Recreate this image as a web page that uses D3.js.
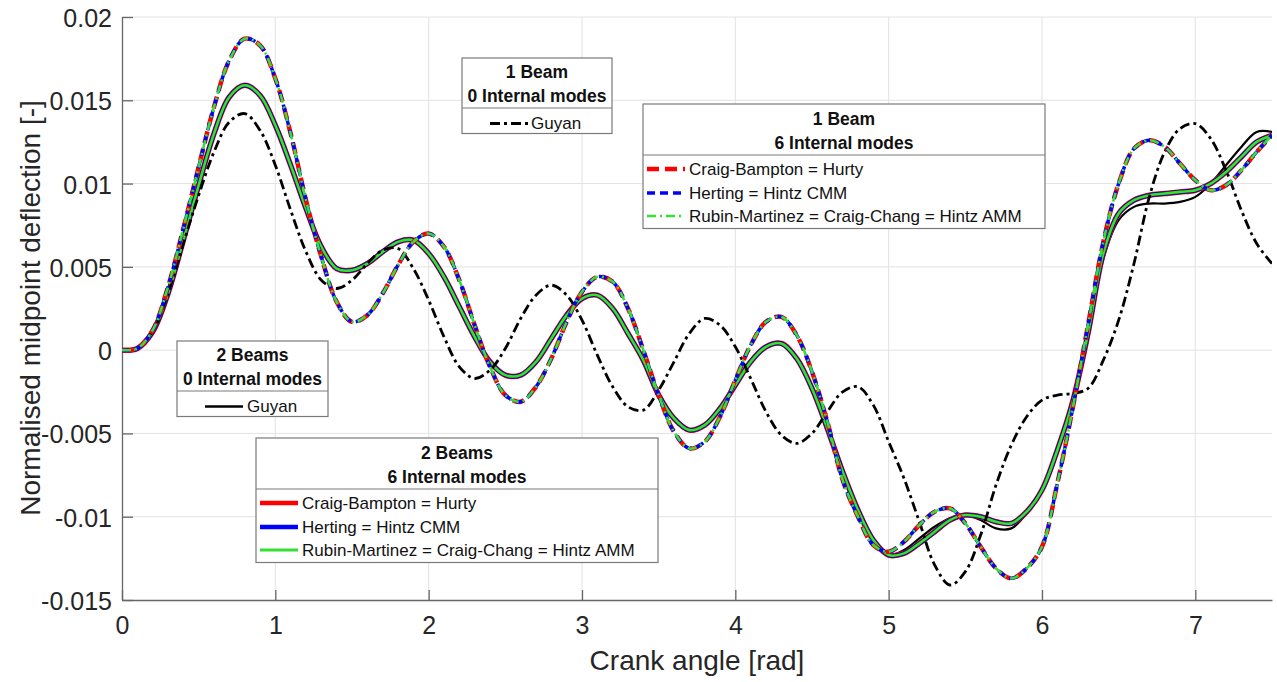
<!DOCTYPE html>
<html><head><meta charset="utf-8">
<script src="https://cdn.jsdelivr.net/npm/d3@7"></script>
<style>body{margin:0;background:#fff}svg{display:block}</style>
</head><body>
<svg id="c" width="1277" height="682"></svg>
<script>
// ---------- data ----------
const angle = [0.0,0.1,0.2,0.3,0.4,0.5,0.6,0.7,0.8,0.9,1.0,1.1,1.2,1.3,1.4,1.5,1.6,1.7,1.8,1.9,
  2.0,2.1,2.2,2.3,2.4,2.5,2.6,2.7,2.8,2.9,3.0,3.1,3.2,3.3,3.4,3.5,3.6,3.7,3.8,3.9,
  4.0,4.1,4.2,4.3,4.4,4.5,4.6,4.7,4.8,4.9,5.0,5.1,5.2,5.3,5.4,5.5,5.6,5.7,5.8,5.9,
  6.0,6.1,6.2,6.3,6.4,6.5,6.6,6.7,6.8,6.9,7.0,7.1,7.2,7.3,7.4,7.5];

// 1 Beam, 0 internal modes: Guyan
const guyan1 = [0,0.0001,0.0011,0.0034,0.0064,0.0093,0.0119,0.0137,0.0142,0.0132,
  0.0111,0.0084,0.0059,0.0042,0.0037,0.0042,0.0052,0.0060,0.0061,0.0049,
  0.0030,0.0008,-0.0010,-0.0017,-0.0012,0.0001,0.0019,0.0033,0.0039,0.0033,
  0.0018,-0.0003,-0.0022,-0.0034,-0.0036,-0.0024,-0.0007,0.0010,0.0019,0.0015,
  0.0002,-0.0017,-0.0037,-0.0051,-0.0056,-0.0050,-0.0037,-0.0025,-0.0022,-0.0033,
  -0.0055,-0.0077,-0.0103,-0.0129,-0.0141,-0.0133,-0.0111,-0.0081,-0.0057,-0.0040,
  -0.0030,-0.0027,-0.0026,-0.0023,-0.0006,0.0018,0.0052,0.0092,0.0119,0.0133,
  0.0136,0.0127,0.0108,0.0084,0.0064,0.0052];

// 1 Beam, 6 internal modes (Craig-Bampton = Herting = Rubin-Martinez ...)
const modes1 = [0,0.0001,0.0012,0.0038,0.0073,0.0110,0.0146,0.0174,0.0187,0.0183,
  0.0163,0.0130,0.0090,0.0056,0.0029,0.0017,0.0021,0.0034,0.0051,0.0065,
  0.0070,0.0062,0.0042,0.0015,-0.0010,-0.0027,-0.0031,-0.0022,-0.0005,0.0017,
  0.0035,0.0044,0.0041,0.0025,0.0000,-0.0027,-0.0049,-0.0059,-0.0055,-0.0040,
  -0.0018,0.0003,0.0017,0.0020,0.0009,-0.0013,-0.0043,-0.0078,-0.0100,-0.0117,
  -0.0121,-0.0115,-0.0105,-0.0097,-0.0095,-0.0104,-0.0118,-0.0131,-0.0137,-0.0131,
  -0.0118,-0.0080,-0.0035,0.0015,0.0065,0.0100,0.0121,0.0126,0.0122,0.0112,
  0.0102,0.0096,0.0099,0.0108,0.0119,0.0129];

// 2 Beams, 0 internal modes: Guyan
const guyan2 = [0,0.0001,0.0011,0.0034,0.0066,0.0099,0.0130,0.0152,0.0159,0.0153,
  0.0135,0.0111,0.0085,0.0062,0.0049,0.0048,0.0052,0.0059,0.0065,0.0066,
  0.0058,0.0044,0.0026,0.0008,-0.0007,-0.0015,-0.0015,-0.0007,0.0007,0.0021,
  0.0031,0.0033,0.0025,0.0010,-0.0006,-0.0027,-0.0041,-0.0048,-0.0045,-0.0035,
  -0.0021,-0.0007,0.0002,0.0004,-0.0005,-0.0023,-0.0047,-0.0073,-0.0096,-0.0114,
  -0.0123,-0.0120,-0.0113,-0.0106,-0.0101,-0.0099,-0.0102,-0.0107,-0.0107,-0.0098,
  -0.0084,-0.0059,-0.0030,0.0010,0.0055,0.0078,0.0086,0.0088,0.0088,0.0089,
  0.0092,0.0100,0.0111,0.0122,0.0131,0.0131];

// 2 Beams, 6 internal modes
const modes2 = [0,0.0001,0.0011,0.0034,0.0066,0.0099,0.0130,0.0152,0.0159,0.0153,
  0.0135,0.0111,0.0085,0.0062,0.0049,0.0048,0.0052,0.0059,0.0065,0.0066,
  0.0058,0.0044,0.0026,0.0008,-0.0007,-0.0015,-0.0015,-0.0007,0.0007,0.0021,
  0.0031,0.0033,0.0025,0.0010,-0.0006,-0.0027,-0.0041,-0.0048,-0.0045,-0.0035,
  -0.0021,-0.0007,0.0002,0.0004,-0.0005,-0.0023,-0.0047,-0.0073,-0.0096,-0.0114,
  -0.0123,-0.0122,-0.0116,-0.0109,-0.0102,-0.0099,-0.0100,-0.0103,-0.0104,-0.0097,
  -0.0084,-0.0060,-0.0031,0.0010,0.0058,0.0082,0.0090,0.0093,0.0094,0.0095,
  0.0096,0.0100,0.0107,0.0116,0.0125,0.0129];

const xTicks = [0,1,2,3,4,5,6,7];
const yTicks = [-0.015,-0.01,-0.005,0,0.005,0.01,0.015,0.02];
const yTickLabels = ["-0.015","-0.01","-0.005","0","0.005","0.01","0.015","0.02"];
const xTitle = "Crank angle [rad]";
const yTitle = "Normalised midpoint deflection [-]";
const methodNames = ["Craig-Bampton = Hurty","Herting = Hintz CMM","Rubin-Martinez = Craig-Chang = Hintz AMM"];

// ---------- layout ----------
const L = 122, R = 1272, T = 17, B = 600;
const FONT = "'Liberation Sans', Arial, Helvetica, sans-serif";
const svg = d3.select("#c");
const x = d3.scaleLinear().domain([0, 7.5]).range([L, R]);
const y = d3.scaleLinear().domain([-0.015, 0.02]).range([B, T]);

// grid
const grid = svg.append("g");
grid.selectAll("line.gx").data(xTicks.slice(1)).join("line")
  .attr("x1", d => x(d)).attr("x2", d => x(d)).attr("y1", T).attr("y2", B)
  .attr("stroke", "#e2e2e2").attr("stroke-width", 1);
grid.selectAll("line.gy").data(yTicks.slice(1)).join("line")
  .attr("x1", L).attr("x2", R).attr("y1", d => y(d)).attr("y2", d => y(d))
  .attr("stroke", "#e2e2e2").attr("stroke-width", 1);

// axes
const xAxis = d3.axisBottom(x).tickValues(xTicks).tickFormat(d3.format("d")).tickSizeInner(-10).tickSizeOuter(0).tickPadding(16);
const yAxis = d3.axisLeft(y).tickValues(yTicks).tickFormat((d, i) => yTickLabels[i]).tickSizeInner(-11).tickSizeOuter(0).tickPadding(10);
const gx = svg.append("g").attr("transform", `translate(0,${B})`).call(xAxis);
const gy = svg.append("g").attr("transform", `translate(${L},0)`).call(yAxis);
[gx, gy].forEach(g => {
  g.select(".domain").attr("stroke", "#666").attr("stroke-width", 1.3);
  g.selectAll(".tick line").attr("stroke", "#666").attr("stroke-width", 1.3);
  g.selectAll(".tick text").attr("fill", "#262626").style("font-family", FONT).style("font-size", "25px");
});
gy.selectAll(".tick text").attr("dy", "0.38em");

// titles
svg.append("text").attr("x", (L + R) / 2).attr("y", 670).attr("text-anchor", "middle")
  .style("font-family", FONT).style("font-size", "28px").attr("fill", "#262626").text(xTitle);
svg.append("text").attr("transform", `translate(40,${308}) rotate(-90)`).attr("text-anchor", "middle")
  .style("font-family", FONT).style("font-size", "28px").attr("fill", "#262626").text(yTitle);

// clip
svg.append("clipPath").attr("id", "clip").append("rect").attr("x", L).attr("y", T - 5).attr("width", R - L).attr("height", B - T + 5);
const plot = svg.append("g").attr("clip-path", "url(#clip)");

const line = d3.line().x((d, i) => x(angle[i])).y(d => y(d)).curve(d3.curveCatmullRom.alpha(0.5));

function draw(data, color, width, dash) {
  const p = plot.append("path").attr("d", line(data)).attr("fill", "none")
    .attr("stroke", color).attr("stroke-width", width)
    .attr("stroke-linejoin", "round");
  if (dash) p.attr("stroke-dasharray", dash);
}

// 2 beams
draw(guyan2, "#000000", 2.2, null);
draw(modes2, "#ff0000", 5.5, null);
draw(modes2, "#0000ff", 4.5, null);
draw(modes2, "#1f1f1f", 3.6, null);
draw(modes2, "#33e033", 2.6, null);
// 1 beam
draw(guyan1, "#000000", 2.8, "10,4,3,4");
draw(modes1, "#ff0000", 4.5, "12,6");
draw(modes1, "#0000ff", 3.5, "8,5");
draw(modes1, "#33e033", 2.6, "9,4,2,4");

// ---------- legends ----------
function legend(bx, by, bw, titles, items, sampleX0, sampleX1, textX, rows) {
  const g = svg.append("g");
  const h = rows.bottom;
  g.append("rect").attr("x", bx).attr("y", by).attr("width", bw).attr("height", h)
    .attr("fill", "#fff").attr("stroke", "#7a7a7a").attr("stroke-width", 1.2);
  g.append("line").attr("x1", bx).attr("x2", bx + bw).attr("y1", by + rows.sep).attr("y2", by + rows.sep)
    .attr("stroke", "#7a7a7a").attr("stroke-width", 1.2);
  titles.forEach((t, i) => {
    g.append("text").attr("x", bx + bw / 2).attr("y", by + rows.titles[i]).attr("dy", "0.35em")
      .attr("text-anchor", "middle").style("font-family", FONT).style("font-size", "17.5px")
      .style("font-weight", "bold").attr("fill", "#111").text(t);
  });
  items.forEach((it, i) => {
    const cy = by + rows.items[i];
    const l = g.append("line").attr("x1", bx + sampleX0).attr("x2", bx + sampleX1).attr("y1", cy).attr("y2", cy)
      .attr("stroke", it.color).attr("stroke-width", it.width);
    if (it.dash) l.attr("stroke-dasharray", it.dash);
    g.append("text").attr("x", bx + textX).attr("y", cy).attr("dy", "0.35em")
      .style("font-family", FONT).style("font-size", "17px").attr("fill", "#111").text(it.label);
  });
}
const small = { titles: [14, 37.5], sep: 50, items: [65.5], bottom: 75.5 };
const big = { titles: [15, 38.5], sep: 51, items: [65, 89, 112], bottom: 124.5 };

legend(462, 58, 150, ["1 Beam", "0 Internal modes"],
  [{ label: "Guyan", color: "#000", width: 2.8, dash: "10,4,3,4" }], 28, 66, 69, small);
legend(643, 104, 402, ["1 Beam", "6 Internal modes"], [
  { label: methodNames[0], color: "#ff0000", width: 4.5, dash: "12,6" },
  { label: methodNames[1], color: "#0000ff", width: 3.5, dash: "8,5" },
  { label: methodNames[2], color: "#33e033", width: 2.6, dash: "9,4,2,4" }], 4, 42, 46, big);
legend(177, 341, 151, ["2 Beams", "0 Internal modes"],
  [{ label: "Guyan", color: "#000", width: 2.4, dash: null }], 28, 66, 70, small);
legend(256, 438, 402, ["2 Beams", "6 Internal modes"], [
  { label: methodNames[0], color: "#ff0000", width: 4.5, dash: null },
  { label: methodNames[1], color: "#0000ff", width: 4.5, dash: null },
  { label: methodNames[2], color: "#33e033", width: 3, dash: null }], 4, 42, 46, big);
</script>
</body></html>
